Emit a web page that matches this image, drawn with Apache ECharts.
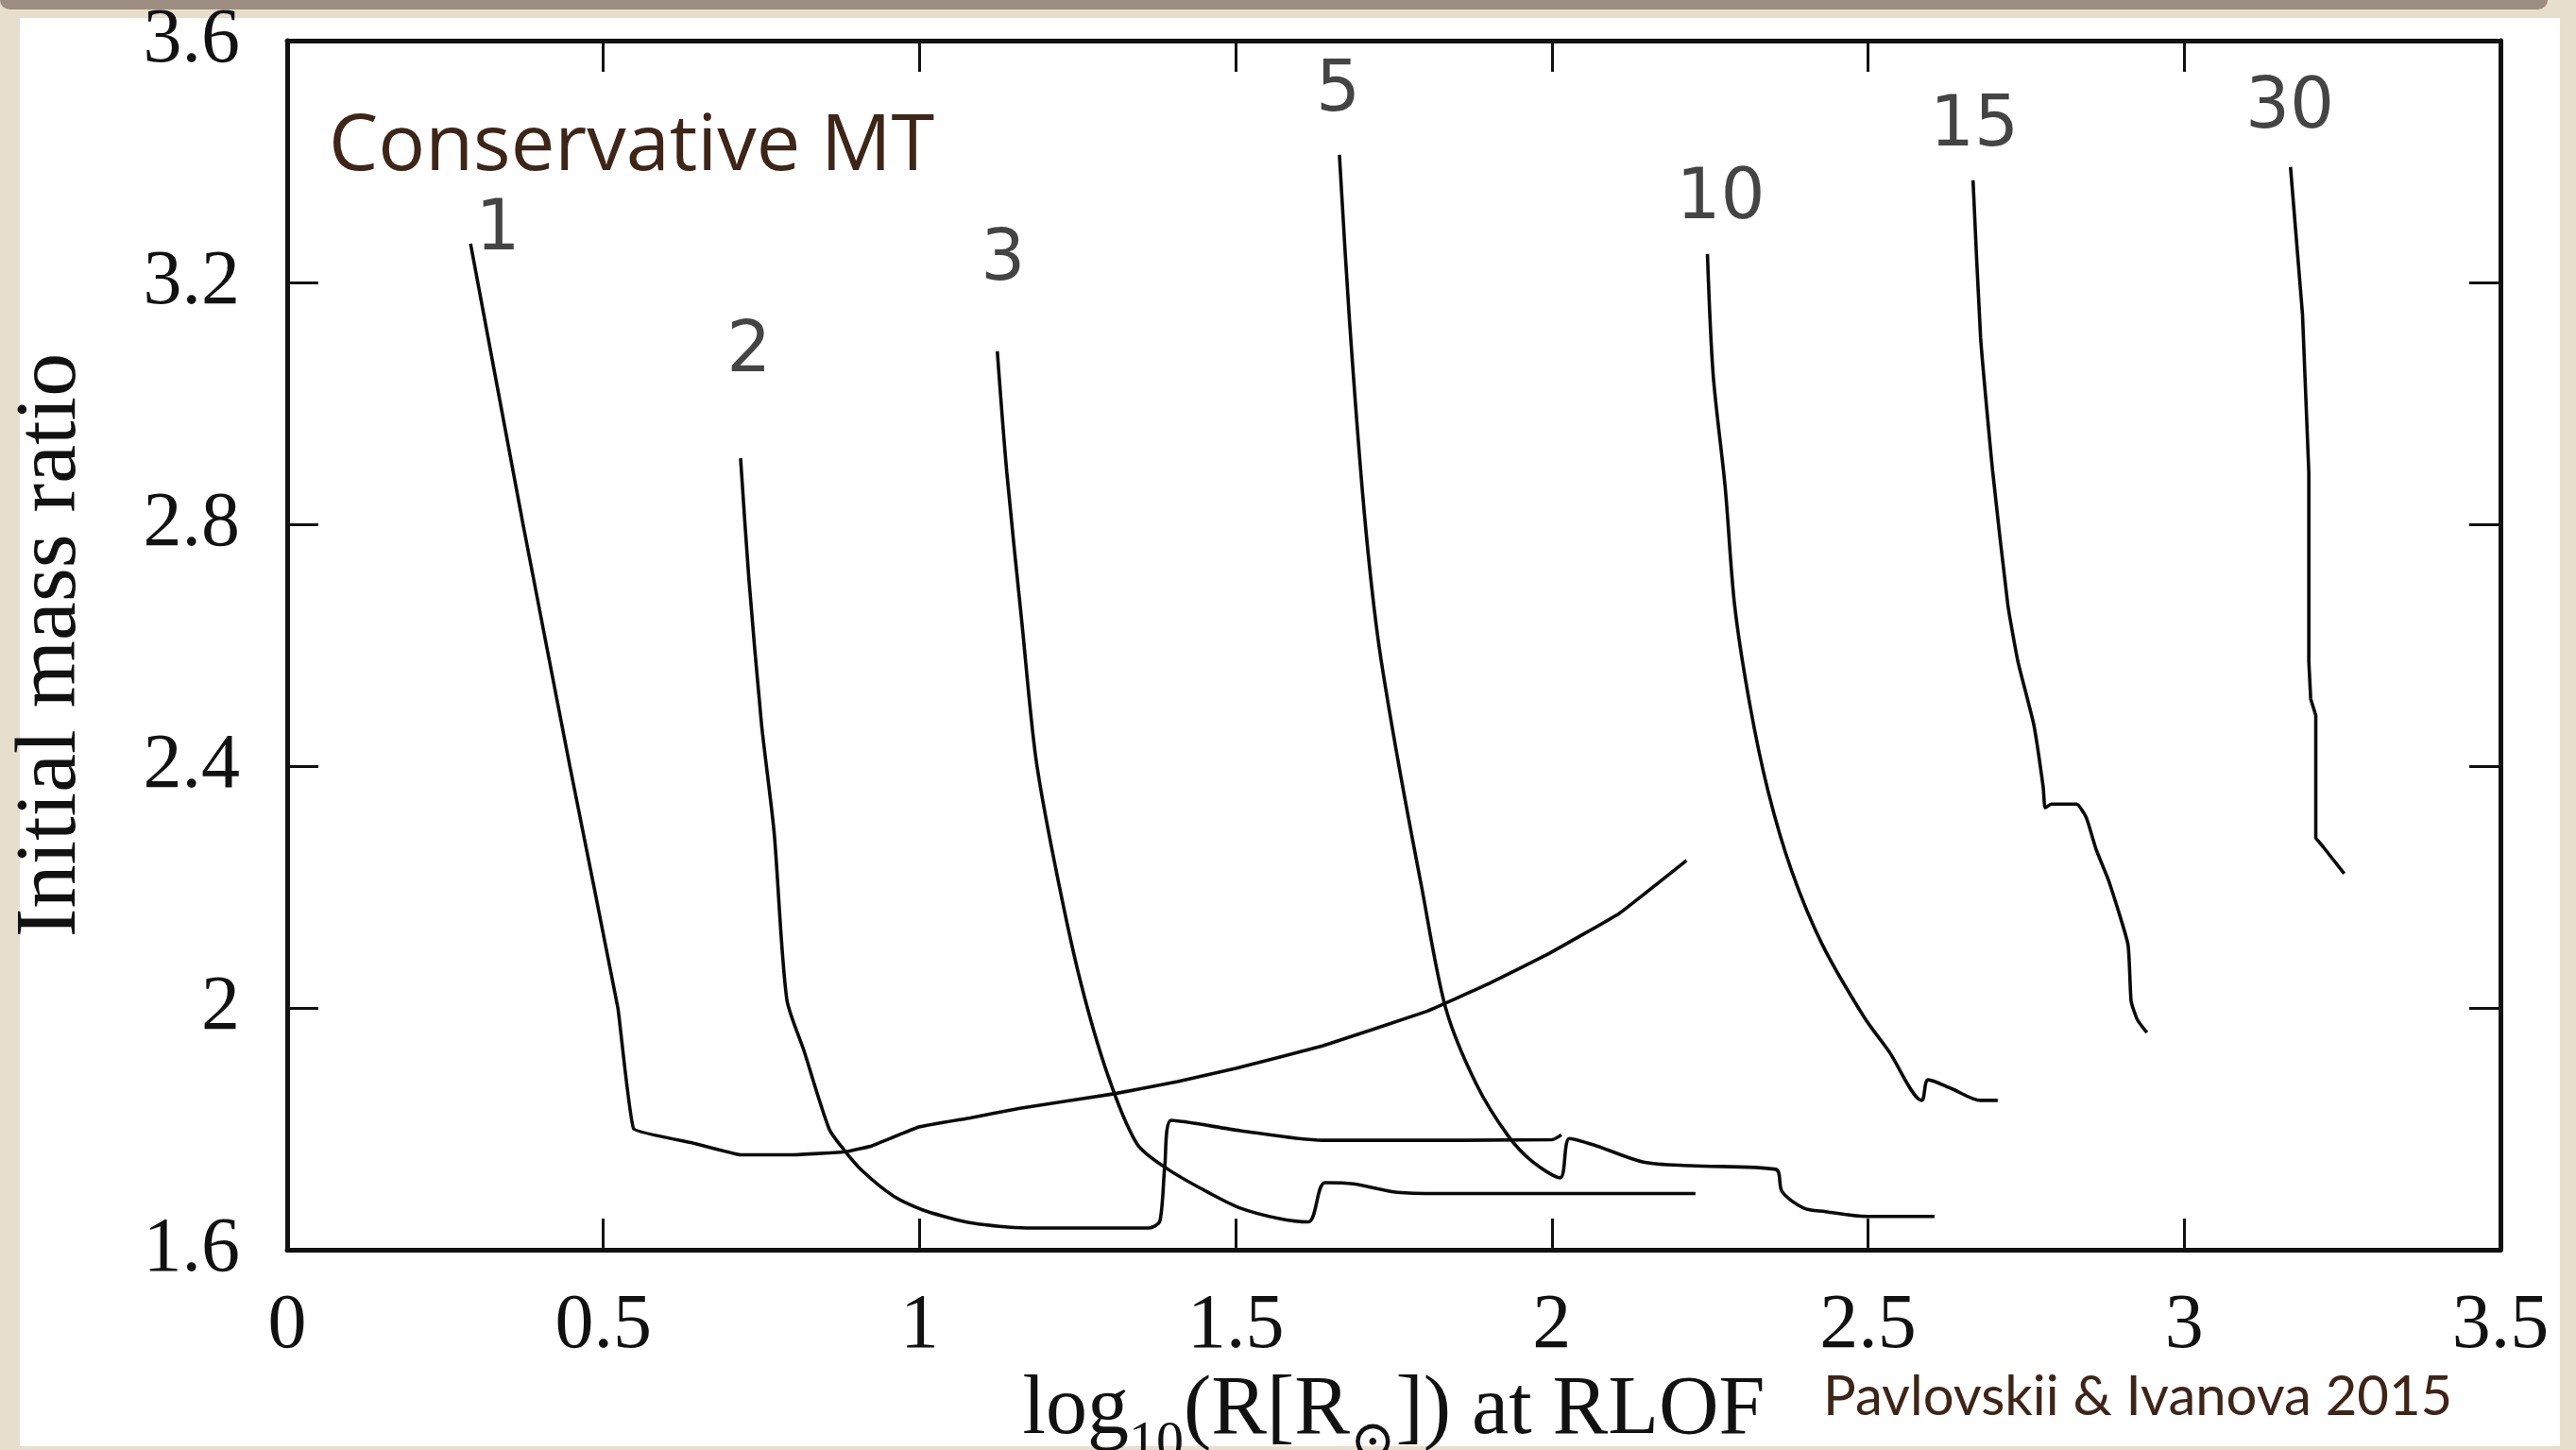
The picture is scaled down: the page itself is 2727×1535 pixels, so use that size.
<!DOCTYPE html>
<html>
<head>
<meta charset="utf-8">
<script src="https://cdn.jsdelivr.net/npm/echarts@6/dist/echarts.min.js"></script>
<style>
html,body{margin:0;padding:0;background:#e8dece;}
#chart{width:2727px;height:1535px;}
</style>
</head>
<body>
<div id="chart"></div>
<script>
// ---- Data (x = log10 R at RLOF, y = initial mass ratio) ----
const xTickValues = [0, 0.5, 1, 1.5, 2, 2.5, 3, 3.5];
const yTickValues = [1.6, 2, 2.4, 2.8, 3.2, 3.6];

const curve1 = [[0.290,3.264],[0.373,2.800],[0.447,2.400],[0.523,2.000],[0.548,1.800],[0.640,1.777],[0.717,1.757],[0.800,1.757],[0.883,1.762],[0.925,1.772],[0.999,1.803],[1.080,1.818],[1.159,1.834],[1.308,1.858],[1.408,1.878],[1.500,1.900],[1.637,1.937],[1.801,1.994],[1.900,2.040],[1.992,2.088],[2.106,2.156],[2.213,2.244]];
const curve2 = [[0.717,2.909],[0.730,2.712],[0.750,2.471],[0.770,2.291],[0.790,2.015],[0.817,1.930],[0.857,1.800],[0.880,1.766],[0.910,1.730],[0.960,1.688],[1.010,1.664],[1.084,1.644],[1.169,1.636],[1.363,1.636],[1.380,1.647],[1.388,1.741],[1.398,1.814],[1.507,1.797],[1.637,1.781],[1.722,1.781],[2.000,1.782],[2.015,1.790]];
const curve3 = [[1.123,3.086],[1.138,2.886],[1.162,2.636],[1.184,2.413],[1.214,2.238],[1.253,2.050],[1.298,1.888],[1.344,1.775],[1.393,1.733],[1.458,1.694],[1.507,1.669],[1.567,1.652],[1.615,1.646],[1.641,1.711],[1.686,1.709],[1.756,1.695],[1.821,1.693],[2.194,1.693],[2.227,1.693]];
const curve5 = [[1.664,3.411],[1.680,3.136],[1.703,2.823],[1.725,2.611],[1.756,2.413],[1.794,2.200],[1.832,2.000],[1.880,1.875],[1.931,1.788],[1.970,1.745],[2.013,1.719],[2.028,1.784],[2.070,1.772],[2.145,1.745],[2.219,1.739],[2.354,1.733],[2.364,1.696],[2.398,1.669],[2.433,1.663],[2.498,1.655],[2.605,1.655]];
const curve10 = [[2.246,3.247],[2.255,3.048],[2.274,2.862],[2.289,2.666],[2.313,2.502],[2.342,2.358],[2.379,2.227],[2.427,2.106],[2.493,1.986],[2.533,1.928],[2.585,1.847],[2.595,1.881],[2.633,1.866],[2.678,1.847],[2.705,1.847]];
const curve15 = [[2.666,3.369],[2.678,3.108],[2.697,2.888],[2.721,2.667],[2.737,2.573],[2.762,2.469],[2.777,2.365],[2.780,2.331],[2.790,2.337],[2.830,2.337],[2.845,2.315],[2.861,2.261],[2.881,2.209],[2.911,2.105],[2.916,2.011],[2.926,1.980],[2.941,1.959]];
const curve30 = [[3.168,3.391],[3.187,3.147],[3.197,2.886],[3.197,2.573],[3.200,2.511],[3.208,2.484],[3.208,2.281],[3.220,2.266],[3.253,2.222]];

const curveNames = ['1','2','3','5','10','15','30'];
const curveLabelPts = [[0.333,3.285,'1'],[0.730,3.083,'2'],[1.132,3.235,'3'],[1.662,3.514,'5'],[2.267,3.336,'10'],[2.668,3.457,'15'],[3.167,3.487,'30']];

const panelTitle = 'Conservative MT';
const creditText = 'Pavlovskii & Ivanova 2015';
const xAxisTitle = '{n|log}{s|10}{n|(R[R}{s|\u2299}{n|]) at RLOF}';
const yAxisTitle = 'Initial mass ratio';

// ---- Chart ----
const chart = echarts.init(document.getElementById('chart'), null, {renderer: 'canvas'});
const curves = [curve1, curve2, curve3, curve5, curve10, curve15, curve30];
const curveSmooth = [0.08, 0.25, 0.3, 0.3, 0.3, 0.15, 0];

const serifFont = '"Liberation Serif","DejaVu Serif",serif';
const axisColor = '#111';
const fmt = v => String(+Number(v).toFixed(2));

const lineSeries = curves.map((d, i) => ({
  name: curveNames[i],
  type: 'line',
  data: d,
  showSymbol: false,
  symbol: 'none',
  smooth: curveSmooth[i],
  silent: true,
  clip: true,
  lineStyle: {color: '#0a0a0a', width: 3.6},
  z: 3
}));

const baseX = {
  type: 'value',
  min: xTickValues[0],
  max: xTickValues[xTickValues.length - 1],
  interval: 0.5,
  splitLine: {show: false},
  axisLine: {show: true, onZero: false, lineStyle: {color: axisColor, width: 5}},
  axisTick: {show: true, inside: true, length: 33, lineStyle: {color: axisColor, width: 3}}
};
const baseY = {
  type: 'value',
  min: yTickValues[0],
  max: yTickValues[yTickValues.length - 1],
  interval: 0.4,
  splitLine: {show: false},
  axisLine: {show: true, onZero: false, lineStyle: {color: axisColor, width: 5}},
  axisTick: {show: true, inside: true, length: 33, lineStyle: {color: axisColor, width: 3}}
};

const option = {
  animation: false,
  backgroundColor: '#e8dece',
  grid: {left: 304, right: 80, top: 43, bottom: 212, containLabel: false, outerBoundsMode: 'none'},
  xAxis: [
    Object.assign({}, baseX, {
      position: 'bottom',
      name: xAxisTitle,
      nameLocation: 'middle',
      nameGap: 112,
      nameTextStyle: {
        color: '#111',
        rich: {
          n: {fontFamily: serifFont, fontSize: 88, lineHeight: 88, verticalAlign: 'top', color: '#111'},
          s: {fontFamily: '"Liberation Serif","DejaVu Serif","DejaVu Sans",serif', fontSize: 58, lineHeight: 58, padding: [50, 0, 0, 0], verticalAlign: 'top', color: '#111'}
        }
      },
      axisLabel: {show: true, margin: 40, fontFamily: serifFont, fontSize: 82, color: '#111', formatter: fmt}
    }),
    Object.assign({}, baseX, {position: 'top', axisLabel: {show: false}})
  ],
  yAxis: [
    Object.assign({}, baseY, {
      position: 'left',
      name: yAxisTitle,
      nameLocation: 'middle',
      nameGap: 203,
      nameTextStyle: {fontFamily: serifFont, fontSize: 92, color: '#111'},
      axisLabel: {show: true, margin: 50, fontFamily: serifFont, fontSize: 82, color: '#111', formatter: fmt}
    }),
    Object.assign({}, baseY, {position: 'right', axisLabel: {show: false}})
  ],
  graphic: [
    {type: 'rect', z: -100, silent: true, shape: {x: 0, y: 0, width: 2697, height: 10, r: [0, 0, 10, 10]}, style: {fill: '#9d8d80'}},
    {type: 'rect', z: -90, silent: true, shape: {x: 21, y: 19, width: 2689, height: 1512}, style: {fill: '#ffffff'}},
    {type: 'text', z: 50, silent: true, left: 348, top: 115, style: {text: panelTitle, fontFamily: '"Open Sans","Noto Sans",sans-serif', fontSize: 83, fill: '#3d2518'}},
    {type: 'text', z: 50, silent: true, left: 1930, top: 1450, style: {text: creditText, fontFamily: 'Lato,"Open Sans",sans-serif', fontSize: 58, fill: '#3d2518'}}
  ],
  series: lineSeries.concat([{
    type: 'scatter',
    name: 'labels',
    silent: true,
    data: curveLabelPts,
    symbolSize: 1,
    itemStyle: {color: 'rgba(0,0,0,0)'},
    label: {
      show: true,
      position: 'inside',
      formatter: p => p.value[2],
      fontFamily: '"DejaVu Sans",sans-serif',
      fontSize: 74,
      color: '#151515'
    },
    z: 5
  }])
};
chart.setOption(option);
</script>
</body>
</html>
